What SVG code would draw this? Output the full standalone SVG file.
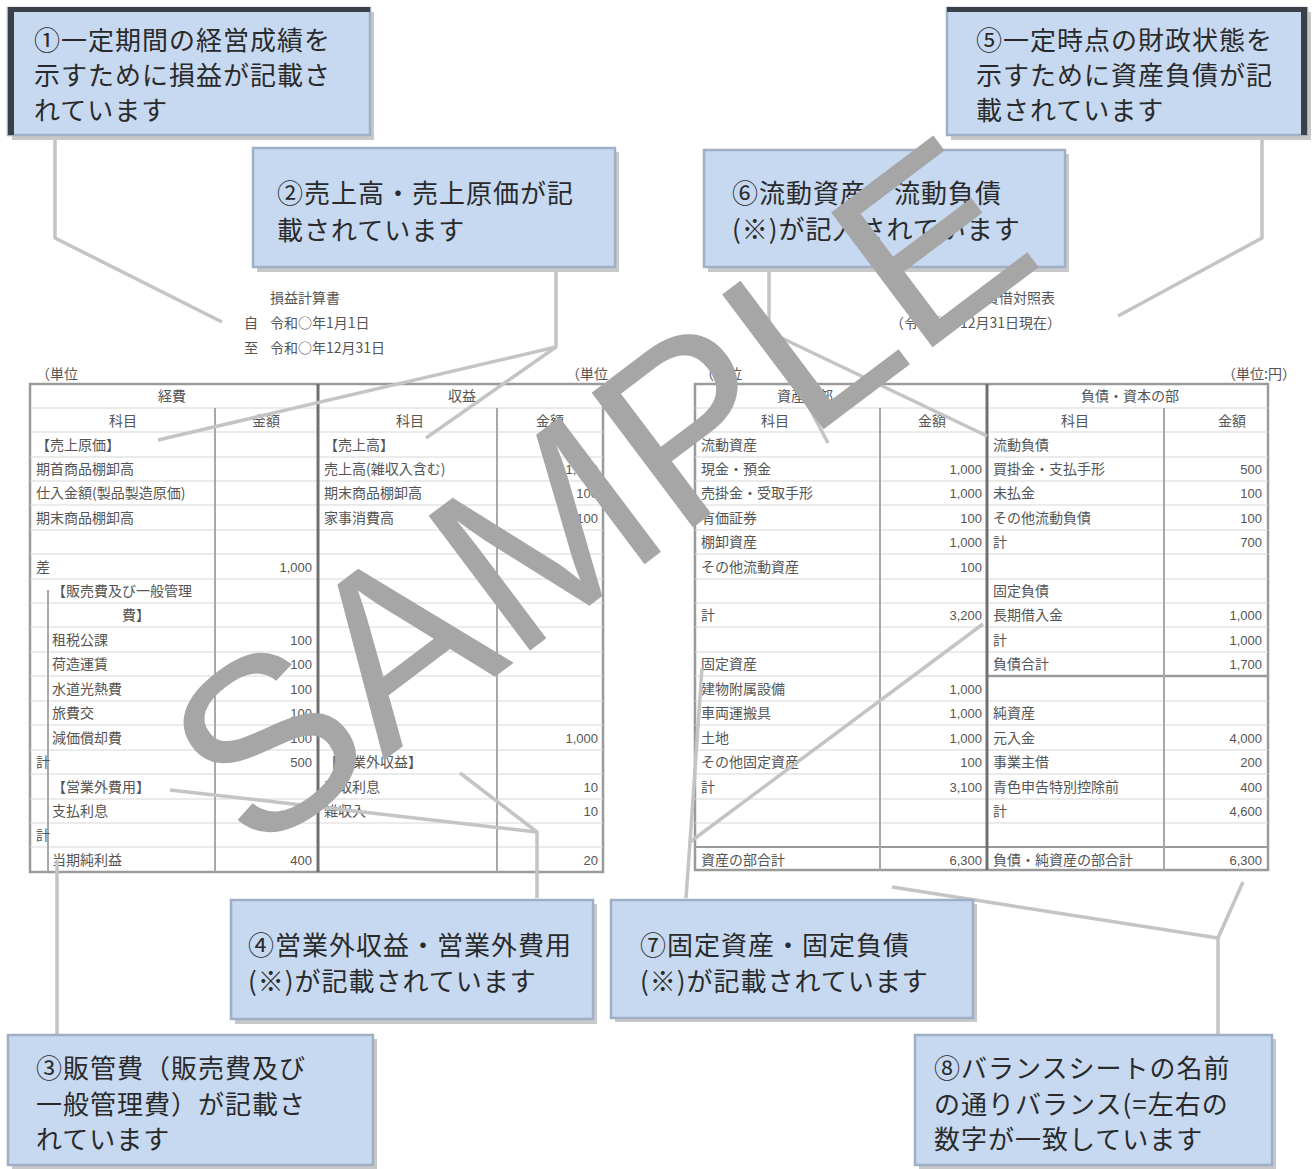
<svg xmlns="http://www.w3.org/2000/svg" width="1315" height="1169" viewBox="0 0 1315 1169">
<style>
.box{fill:#c6d9f1;stroke:#9fb0c6;stroke-width:2.5}
.shadow{fill:#c8c8c8}
.bt{font-family:"Noto Sans CJK JP","Noto Sans CJK SC",sans-serif;font-size:26px;letter-spacing:1px;fill:#2a2a2a}
.conn{fill:none;stroke:#c4c4c4;stroke-width:3.5;stroke-linejoin:round}
.grid{stroke:#d8d8d8;stroke-width:1.2}
.frame{fill:#ffffff;stroke:#9a9a9a;stroke-width:2.5}
.vline{stroke:#a8a8a8;stroke-width:2}
.vthick{stroke:#707070;stroke-width:3}
.ct{font-family:"Noto Sans CJK JP",sans-serif;font-size:14px;fill:#555}
.cn{font-family:"Liberation Sans",sans-serif;font-size:13px;fill:#555;text-anchor:end}
.cap{font-family:"Noto Sans CJK JP",sans-serif;font-size:14px;fill:#555}
.hd{font-family:"Noto Sans CJK JP",sans-serif;font-size:14px;fill:#555;text-anchor:middle}
.wm{font-family:"Liberation Sans","DejaVu Sans",sans-serif;font-size:245px;fill:#a6a6a6;text-anchor:middle}
</style>

<!-- captions -->
<g id="caption-left">
<text class="cap" x="270" y="303">損益計算書</text>
<text class="cap" x="244" y="328">自</text><text class="cap" x="270" y="328">令和○年1月1日</text>
<text class="cap" x="244" y="353">至</text><text class="cap" x="270" y="353">令和○年12月31日</text>
</g>
<g id="caption-right">
<text class="cap" x="985" y="303">貸借対照表</text>
<text class="cap" x="890" y="328">（令和○年12月31日現在）</text>
</g>

<!-- left table -->
<g id="table-left">
<text class="ct" x="36" y="379" font-size="11">（単位</text>
<text class="ct" x="566" y="379" font-size="11">（単位</text>
<rect class="frame" x="30" y="384" width="573" height="488"/>
<g class="grid">
<line x1="30" y1="408" x2="603" y2="408"/><line x1="30" y1="432" x2="603" y2="432"/>
<line x1="30" y1="457" x2="603" y2="457"/><line x1="30" y1="481" x2="603" y2="481"/>
<line x1="30" y1="505" x2="603" y2="505"/><line x1="30" y1="530" x2="603" y2="530"/>
<line x1="30" y1="554" x2="603" y2="554"/><line x1="30" y1="579" x2="603" y2="579"/>
<line x1="30" y1="603" x2="603" y2="603"/><line x1="30" y1="627" x2="603" y2="627"/>
<line x1="30" y1="652" x2="603" y2="652"/><line x1="30" y1="676" x2="603" y2="676"/>
<line x1="30" y1="701" x2="603" y2="701"/><line x1="30" y1="725" x2="603" y2="725"/>
<line x1="30" y1="750" x2="603" y2="750"/><line x1="30" y1="774" x2="603" y2="774"/>
<line x1="30" y1="799" x2="603" y2="799"/><line x1="30" y1="823" x2="603" y2="823"/>
<line x1="30" y1="847" x2="603" y2="847"/>
</g>
<line class="vline" x1="215" y1="408" x2="215" y2="872"/>
<line class="vthick" x1="318" y1="384" x2="318" y2="872"/>
<line class="vline" x1="497" y1="408" x2="497" y2="872"/>
<line class="vline" x1="48" y1="590" x2="48" y2="872"/>
<text class="hd" x="172" y="401">経費</text><text class="hd" x="462" y="401">収益</text>
<text class="hd" x="123" y="426">科目</text><text class="hd" x="266" y="426">金額</text>
<text class="hd" x="410" y="426">科目</text><text class="hd" x="550" y="426">金額</text>
<text class="ct" x="36" y="450">【売上原価】</text>
<text class="ct" x="36" y="474">期首商品棚卸高</text>
<text class="ct" x="36" y="498">仕入金額(製品製造原価)</text>
<text class="ct" x="36" y="523">期末商品棚卸高</text>
<text class="ct" x="36" y="572">差</text><text class="cn" x="312" y="572">1,000</text>
<text class="ct" x="52" y="596">【販売費及び一般管理</text>
<text class="ct" x="122" y="620">費】</text>
<text class="ct" x="52" y="645">租税公課</text><text class="cn" x="312" y="645">100</text>
<text class="ct" x="52" y="669">荷造運賃</text><text class="cn" x="312" y="669">100</text>
<text class="ct" x="52" y="694">水道光熱費</text><text class="cn" x="312" y="694">100</text>
<text class="ct" x="52" y="718">旅費交</text><text class="cn" x="312" y="718">100</text>
<text class="ct" x="52" y="743">減価償却費</text><text class="cn" x="312" y="743">100</text>
<text class="ct" x="36" y="767">計</text><text class="cn" x="312" y="767">500</text>
<text class="ct" x="52" y="792">【営業外費用】</text>
<text class="ct" x="52" y="816">支払利息</text>
<text class="ct" x="36" y="840">計</text>
<text class="ct" x="52" y="865">当期純利益</text><text class="cn" x="312" y="865">400</text>
<text class="ct" x="324" y="450">【売上高】</text>
<text class="ct" x="324" y="474">売上高(雑収入含む)</text><text class="cn" x="598" y="474">1,000</text>
<text class="ct" x="324" y="498">期末商品棚卸高</text><text class="cn" x="598" y="498">100</text>
<text class="ct" x="324" y="523">家事消費高</text><text class="cn" x="598" y="523">100</text>
<text class="cn" x="598" y="743">1,000</text>
<text class="ct" x="324" y="767">【営業外収益】</text>
<text class="ct" x="324" y="792">受取利息</text><text class="cn" x="598" y="792">10</text>
<text class="ct" x="324" y="816">雑収入</text><text class="cn" x="598" y="816">10</text>
<text class="cn" x="598" y="865">20</text>
</g>

<!-- right table -->
<g id="table-right">
<text class="ct" x="700" y="379" font-size="11">（単位</text>
<text class="ct" x="1222" y="379" font-size="11">（単位:円）</text>
<rect class="frame" x="695" y="384" width="573" height="486"/>
<g class="grid">
<line x1="695" y1="408" x2="1268" y2="408"/><line x1="695" y1="432" x2="1268" y2="432"/>
<line x1="695" y1="457" x2="1268" y2="457"/><line x1="695" y1="481" x2="1268" y2="481"/>
<line x1="695" y1="505" x2="1268" y2="505"/><line x1="695" y1="530" x2="1268" y2="530"/>
<line x1="695" y1="554" x2="1268" y2="554"/><line x1="695" y1="579" x2="1268" y2="579"/>
<line x1="695" y1="603" x2="1268" y2="603"/><line x1="695" y1="627" x2="1268" y2="627"/>
<line x1="695" y1="652" x2="1268" y2="652"/><line x1="695" y1="676" x2="1268" y2="676"/>
<line x1="695" y1="701" x2="1268" y2="701"/><line x1="695" y1="725" x2="1268" y2="725"/>
<line x1="695" y1="750" x2="1268" y2="750"/><line x1="695" y1="774" x2="1268" y2="774"/>
<line x1="695" y1="799" x2="1268" y2="799"/><line x1="695" y1="823" x2="1268" y2="823"/>
<line x1="695" y1="847" x2="1268" y2="847"/>
</g>
<line x1="987" y1="676" x2="1268" y2="676" stroke="#9a9a9a" stroke-width="2.5"/>
<line x1="695" y1="847" x2="1268" y2="847" stroke="#9a9a9a" stroke-width="2"/>
<line class="vline" x1="880" y1="408" x2="880" y2="870"/>
<line class="vthick" x1="987" y1="384" x2="987" y2="870"/>
<line class="vline" x1="1164" y1="408" x2="1164" y2="870"/>
<text class="hd" x="805" y="401">資産の部</text><text class="hd" x="1130" y="401">負債・資本の部</text>
<text class="hd" x="775" y="426">科目</text><text class="hd" x="932" y="426">金額</text>
<text class="hd" x="1075" y="426">科目</text><text class="hd" x="1232" y="426">金額</text>
<text class="ct" x="701" y="450">流動資産</text>
<text class="ct" x="701" y="474">現金・預金</text><text class="cn" x="982" y="474">1,000</text>
<text class="ct" x="701" y="498">売掛金・受取手形</text><text class="cn" x="982" y="498">1,000</text>
<text class="ct" x="701" y="523">有価証券</text><text class="cn" x="982" y="523">100</text>
<text class="ct" x="701" y="547">棚卸資産</text><text class="cn" x="982" y="547">1,000</text>
<text class="ct" x="701" y="572">その他流動資産</text><text class="cn" x="982" y="572">100</text>
<text class="ct" x="701" y="620">計</text><text class="cn" x="982" y="620">3,200</text>
<text class="ct" x="701" y="669">固定資産</text>
<text class="ct" x="701" y="694">建物附属設備</text><text class="cn" x="982" y="694">1,000</text>
<text class="ct" x="701" y="718">車両運搬具</text><text class="cn" x="982" y="718" fill="#f08a8a">1,000</text>
<text class="ct" x="701" y="743">土地</text><text class="cn" x="982" y="743">1,000</text>
<text class="ct" x="701" y="767">その他固定資産</text><text class="cn" x="982" y="767">100</text>
<text class="ct" x="701" y="792">計</text><text class="cn" x="982" y="792">3,100</text>
<text class="ct" x="701" y="865">資産の部合計</text><text class="cn" x="982" y="865">6,300</text>
<text class="ct" x="993" y="450">流動負債</text>
<text class="ct" x="993" y="474">買掛金・支払手形</text><text class="cn" x="1262" y="474">500</text>
<text class="ct" x="993" y="498">未払金</text><text class="cn" x="1262" y="498">100</text>
<text class="ct" x="993" y="523">その他流動負債</text><text class="cn" x="1262" y="523">100</text>
<text class="ct" x="993" y="547">計</text><text class="cn" x="1262" y="547">700</text>
<text class="ct" x="993" y="596">固定負債</text>
<text class="ct" x="993" y="620">長期借入金</text><text class="cn" x="1262" y="620">1,000</text>
<text class="ct" x="993" y="645">計</text><text class="cn" x="1262" y="645">1,000</text>
<text class="ct" x="993" y="669">負債合計</text><text class="cn" x="1262" y="669">1,700</text>
<text class="ct" x="993" y="718">純資産</text>
<text class="ct" x="993" y="743">元入金</text><text class="cn" x="1262" y="743">4,000</text>
<text class="ct" x="993" y="767">事業主借</text><text class="cn" x="1262" y="767">200</text>
<text class="ct" x="993" y="792">青色申告特別控除前</text><text class="cn" x="1262" y="792">400</text>
<text class="ct" x="993" y="816">計</text><text class="cn" x="1262" y="816">4,600</text>
<text class="ct" x="993" y="865">負債・純資産の部合計</text><text class="cn" x="1262" y="865">6,300</text>
</g>

<!-- connectors -->
<g id="connectors">
<polyline class="conn" points="55,137 55,238 222,322"/>
<polyline class="conn" points="556,269 556,347 158,440"/>
<polyline class="conn" points="556,347 426,438"/>
<polyline class="conn" points="1262,137 1262,238 1118,316"/>
<polyline class="conn" points="769,269 769,332 828,443"/>
<polyline class="conn" points="769,332 987,436"/>
<polyline class="conn" points="537,898 537,832 460,773"/>
<polyline class="conn" points="537,832 170,790"/>
<polyline class="conn" points="57,1035 57,860"/>
<polyline class="conn" points="686,898 690,842 983,624"/>
<polyline class="conn" points="690,842 702,668"/>
<polyline class="conn" points="1218,1035 1218,938 892,887"/>
<polyline class="conn" points="1218,938 1243,882"/>
</g>

<!-- callout boxes -->
<g id="note1">
<rect class="shadow" x="12" y="12" width="362" height="128"/>
<rect class="box" x="8" y="8" width="362" height="127"/>
<rect x="8" y="7" width="362" height="5" fill="#3a4048"/>
<rect x="8" y="7" width="6" height="128" fill="#3a4048"/>
<text class="bt" x="34" y="50">①一定期間の経営成績を</text>
<text class="bt" x="34" y="85">示すために損益が記載さ</text>
<text class="bt" x="34" y="120">れています</text>
</g>
<g id="note2">
<rect class="shadow" x="257" y="152" width="362" height="120"/>
<rect class="box" x="253" y="148" width="362" height="119"/>
<text class="bt" x="277" y="203">②売上高・売上原価が記</text>
<text class="bt" x="277" y="240">載されています</text>
</g>
<g id="note3">
<rect class="shadow" x="12" y="1039" width="365" height="130"/>
<rect class="box" x="8" y="1035" width="365" height="130"/>
<text class="bt" x="36" y="1078">③販管費（販売費及び</text>
<text class="bt" x="36" y="1114">一般管理費）が記載さ</text>
<text class="bt" x="36" y="1149">れています</text>
</g>
<g id="note4">
<rect class="shadow" x="235" y="904" width="362" height="120"/>
<rect class="box" x="231" y="900" width="362" height="119"/>
<text class="bt" x="248" y="955">④営業外収益・営業外費用</text>
<text class="bt" x="248" y="991">(※)が記載されています</text>
</g>
<g id="note5">
<rect class="shadow" x="951" y="12" width="360" height="128"/>
<rect class="box" x="947" y="8" width="360" height="127"/>
<rect x="947" y="7" width="360" height="5" fill="#3a4048"/>
<rect x="1301" y="7" width="6" height="128" fill="#3a4048"/>
<text class="bt" x="976" y="50">⑤一定時点の財政状態を</text>
<text class="bt" x="976" y="85">示すために資産負債が記</text>
<text class="bt" x="976" y="120">載されています</text>
</g>
<g id="note6">
<rect class="shadow" x="708" y="154" width="361" height="118"/>
<rect class="box" x="704" y="150" width="361" height="117"/>
<text class="bt" x="732" y="203">⑥流動資産・流動負債</text>
<text class="bt" x="732" y="239">(※)が記入されています</text>
</g>
<g id="note7">
<rect class="shadow" x="615" y="904" width="362" height="118"/>
<rect class="box" x="611" y="900" width="362" height="118"/>
<text class="bt" x="640" y="955">⑦固定資産・固定負債</text>
<text class="bt" x="640" y="991">(※)が記載されています</text>
</g>
<g id="note8">
<rect class="shadow" x="919" y="1039" width="357" height="130"/>
<rect class="box" x="915" y="1035" width="357" height="130"/>
<text class="bt" x="934" y="1078">⑧バランスシートの名前</text>
<text class="bt" x="934" y="1114">の通りバランス(=左右の</text>
<text class="bt" x="934" y="1149">数字が一致しています</text>
</g>

<!-- watermark -->
<g id="watermark">
<text class="wm" transform="translate(650,560) rotate(-37)">SAMPLE</text>
</g>
</svg>
